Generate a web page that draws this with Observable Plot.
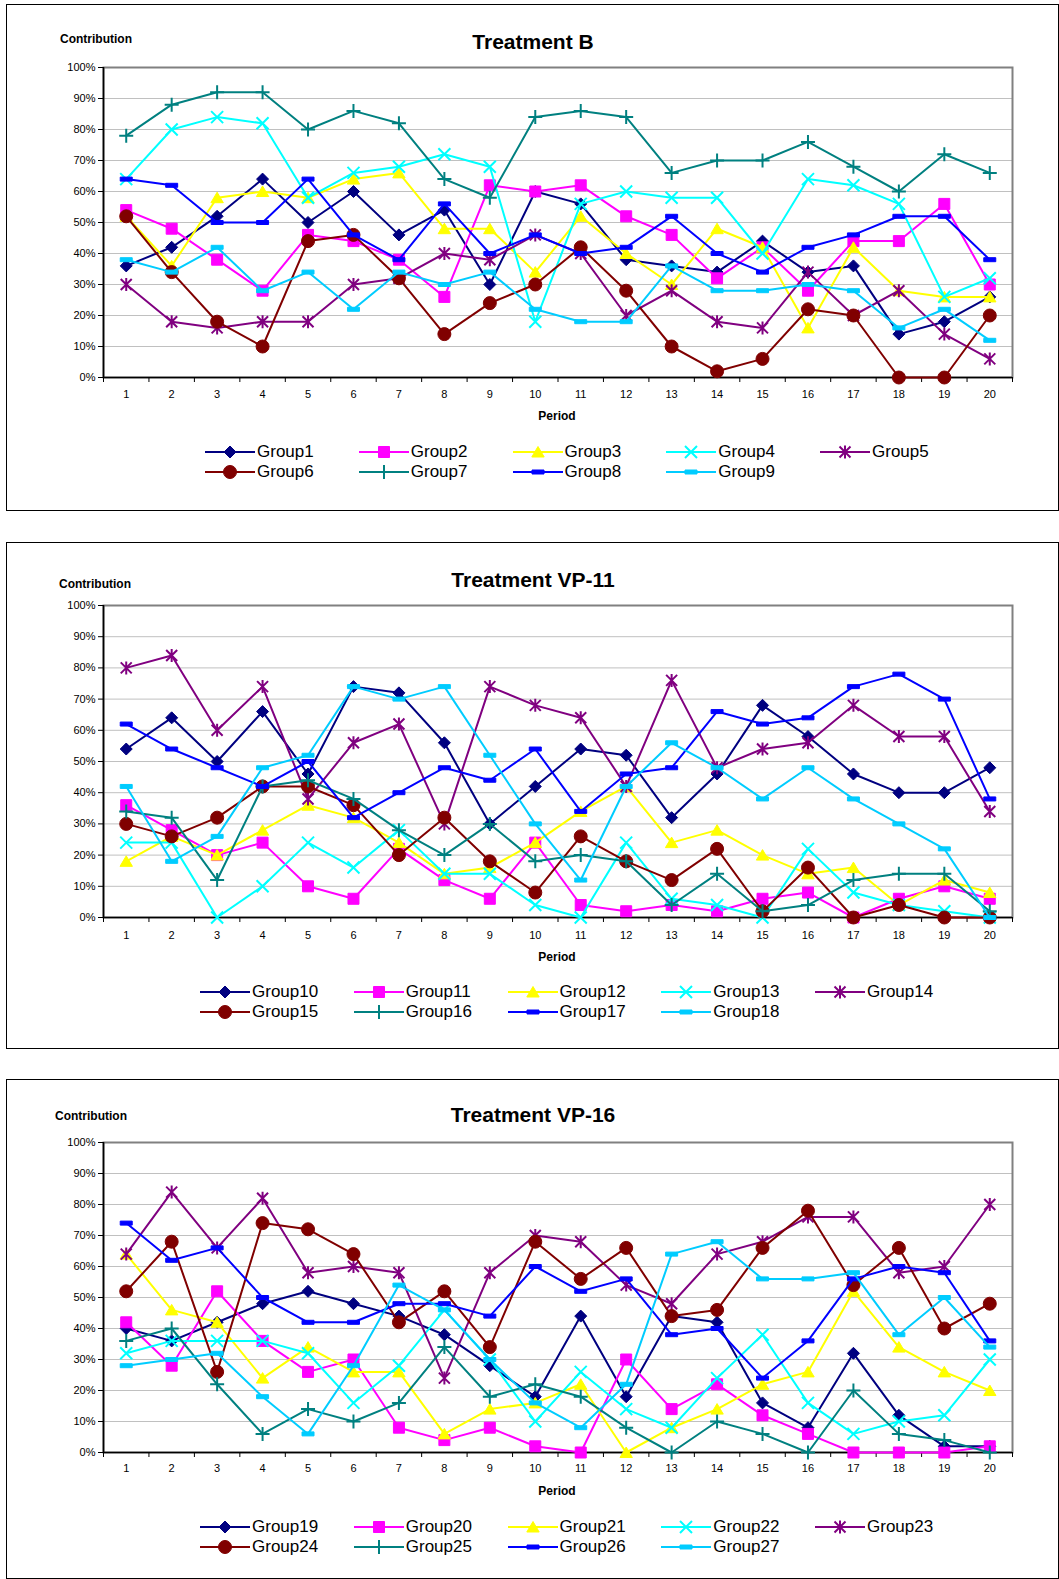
<!DOCTYPE html>
<html><head><meta charset="utf-8">
<script src="https://cdn.jsdelivr.net/npm/d3@7"></script>
<script src="https://cdn.jsdelivr.net/npm/@observablehq/plot@0.6"></script>
<style>
body{margin:0;background:#fff;font-family:"Liberation Sans",Arial,sans-serif;color:#000;}
#root{position:relative;width:1059px;height:1579px;overflow:hidden;}
.panel{position:absolute;left:6px;width:1053px;border:1px solid #000;box-sizing:border-box;background:#fff;overflow:hidden;}
.panel svg.plot{position:absolute;left:0;top:0;}
.contrib{position:absolute;font-weight:bold;font-size:12px;line-height:14px;white-space:nowrap;}
.title{position:absolute;font-weight:bold;font-size:21px;line-height:24px;white-space:nowrap;transform:translateX(-50%);}
.period{position:absolute;font-weight:bold;font-size:12px;line-height:14px;transform:translateX(-50%);}
.li{position:absolute;height:20px;display:flex;align-items:center;white-space:nowrap;font-size:17px;}
</style>
</head><body><div id="root"></div>
<script>
// ---- data (percent contribution per period) ----
const periods = [1,2,3,4,5,6,7,8,9,10,11,12,13,14,15,16,17,18,19,20];
const yTicks = [0,10,20,30,40,50,60,70,80,90,100];

// Treatment B
const g1 = [36,42,52,64,50,60,46,54,30,60,56,38,36,34,44,34,36,14,18,26];
const g2 = [54,48,38,28,46,44,38,26,62,60,62,52,46,32,42,28,44,44,56,30];
const g3 = [52,36,58,60,58,64,66,48,48,34,52,40,30,48,42,16,42,28,26,26];
const g4 = [64,80,84,82,58,66,68,72,68,18,56,60,58,58,40,64,62,56,26,32];
const g5 = [30,18,16,18,18,30,32,40,38,46,40,20,28,18,16,34,20,28,14,6];
const g6 = [52,34,18,10,44,46,32,14,24,30,42,28,10,2,6,22,20,0,0,20];
const g7 = [78,88,92,92,80,86,82,64,58,84,86,84,66,70,70,76,68,60,72,66];
const g8 = [64,62,50,50,64,46,38,56,40,46,40,42,52,40,34,42,46,52,52,38];
const g9 = [38,34,42,28,34,22,34,30,34,22,18,18,36,28,28,30,28,16,22,12];

// Treatment VP-11
const g10 = [54,64,50,66,46,74,72,56,30,42,54,52,32,46,68,58,46,40,40,48];
const g11 = [36,28,20,24,10,6,22,12,6,24,4,2,4,2,6,8,0,6,10,6];
const g12 = [18,26,20,28,36,32,24,14,16,24,34,42,24,28,20,14,16,4,12,8];
const g13 = [24,24,0,10,24,16,28,14,14,4,0,24,6,4,0,22,8,4,2,0];
const g14 = [80,84,60,74,38,56,62,30,74,68,64,42,76,48,54,56,68,58,58,34];
const g15 = [30,26,32,42,42,36,20,32,18,8,26,18,12,22,2,16,0,4,0,0];
const g16 = [34,32,12,42,44,38,28,20,30,18,20,18,4,14,2,4,12,14,14,2];
const g17 = [62,54,48,42,50,32,40,48,44,54,34,46,48,66,62,64,74,78,70,38];
const g18 = [42,18,26,48,52,74,70,74,52,30,12,42,56,48,38,48,38,30,22,0];

// Treatment VP-16
const g19 = [40,36,42,48,52,48,44,38,28,18,44,18,44,42,16,8,32,12,2,2];
const g20 = [42,28,52,36,26,30,8,4,8,2,0,30,14,22,12,6,0,0,0,2];
const g21 = [64,46,42,24,34,26,26,6,14,16,22,0,8,14,22,26,52,34,26,20];
const g22 = [32,36,36,36,32,16,28,46,30,10,26,14,8,24,38,16,6,10,12,30];
const g23 = [64,84,66,82,58,60,58,24,58,70,68,54,48,64,68,76,76,58,60,80];
const g24 = [52,68,26,74,72,64,42,52,34,68,56,66,44,46,66,78,54,66,40,48];
const g25 = [36,40,22,6,14,10,16,34,18,22,18,8,0,10,6,0,20,6,4,0];
const g26 = [74,62,66,50,42,42,48,48,44,60,52,56,38,40,24,36,56,60,58,36];
const g27 = [28,30,32,18,6,28,54,46,30,16,8,22,64,68,56,56,58,38,50,34];

const namesB = ["Group1","Group2","Group3","Group4","Group5","Group6","Group7","Group8","Group9"];
const names11 = ["Group10","Group11","Group12","Group13","Group14","Group15","Group16","Group17","Group18"];
const names16 = ["Group19","Group20","Group21","Group22","Group23","Group24","Group25","Group26","Group27"];

// ---- marker styles (Excel default series sequence) ----
const symDiamond = {draw(c){c.moveTo(0,-6);c.lineTo(6,0);c.lineTo(0,6);c.lineTo(-6,0);c.closePath();}};
const symSquare = {draw(c){c.rect(-5.5,-5.5,11,11);}};
const symTriangle = {draw(c){c.moveTo(0,-5.5);c.lineTo(6.2,5);c.lineTo(-6.2,5);c.closePath();}};
const symTimes = {draw(c){c.moveTo(-6,-6);c.lineTo(6,6);c.moveTo(-6,6);c.lineTo(6,-6);}};
const symAster = {draw(c){c.moveTo(-5.5,-5.5);c.lineTo(5.5,5.5);c.moveTo(-5.5,5.5);c.lineTo(5.5,-5.5);c.moveTo(0,-6.5);c.lineTo(0,6.5);}};
const symPlus = {draw(c){c.moveTo(-7,0);c.lineTo(7,0);c.moveTo(0,-7);c.lineTo(0,7);}};
const symDash = {draw(c){c.rect(-6,-2,12,4);}};
const styles = [
  {color:"#000080", symbol:symDiamond, filled:true},
  {color:"#FF00FF", symbol:symSquare, filled:true},
  {color:"#FFFF00", symbol:symTriangle, filled:true},
  {color:"#00FFFF", symbol:symTimes, filled:false},
  {color:"#800080", symbol:symAster, filled:false},
  {color:"#800000", symbol:"circle", filled:true, r:6.5},
  {color:"#008080", symbol:symPlus, filled:false},
  {color:"#0000FF", symbol:symDash, filled:true},
  {color:"#00CCFF", symbol:symDash, filled:true}
];

const panels = [
  {top:4, height:507, title:"Treatment B", names:namesB, series:[g1,g2,g3,g4,g5,g6,g7,g8,g9],
   legendLeft:205, contribLeft:60, contribY:34, titleY:37, mb:28, tickPad:13, periodY:411, legendY:447},
  {top:542, height:507, title:"Treatment VP-11", names:names11, series:[g10,g11,g12,g13,g14,g15,g16,g17,g18],
   legendLeft:200, contribLeft:59, contribY:41, titleY:37, mb:26, tickPad:14, periodY:414, legendY:449},
  {top:1079, height:500, title:"Treatment VP-16", names:names16, series:[g19,g20,g21,g22,g23,g24,g25,g26,g27],
   legendLeft:200, contribLeft:55, contribY:36, titleY:35, mb:28, tickPad:12, periodY:411, legendY:447}
];

const bounds = periods.map(d => d - 0.5).concat([periods[periods.length-1] + 0.5]);
const root = document.getElementById("root");

function makePlot(p){
  const marks = [
    Plot.ruleY(yTicks.slice(1, -1), {stroke:"#c0c0c0", strokeWidth:1}),
    Plot.frame({stroke:"#808080", strokeWidth:2}),
    Plot.ruleX([bounds[0]], {stroke:"#000", strokeWidth:1.6}),
    Plot.ruleY([0], {stroke:"#000", strokeWidth:1.6}),
    Plot.axisY({ticks:yTicks, tickSize:5, tickPadding:3, tickFormat:d => d + "%", fontSize:11}),
    Plot.axisX({ticks:periods, tickSize:0, tickPadding:p.tickPad, tickFormat:d => String(d), fontSize:11}),
    Plot.axisX({ticks:bounds, tickSize:5, tickFormat:() => ""})
  ];
  p.series.forEach((vals, i) => {
    const st = styles[i];
    const data = periods.map((x, j) => ({period:x, value:vals[j]}));
    marks.push(Plot.line(data, {x:"period", y:"value", stroke:st.color, strokeWidth:2}));
    marks.push(Plot.dot(data, {x:"period", y:"value", symbol:st.symbol, r:st.r || 5,
      fill:st.filled ? st.color : "none", stroke:st.color, strokeWidth:st.filled ? 1 : 2}));
  });
  const svg = Plot.plot({
    width:1051, height:400, marginLeft:96, marginRight:46, marginTop:62, marginBottom:p.mb,
    x:{type:"linear", domain:[bounds[0], bounds[bounds.length-1]], label:null},
    y:{domain:[0,100], label:null},
    style:{fontFamily:"'Liberation Sans', Arial, sans-serif", fontSize:"11px", color:"#000", background:"transparent", overflow:"visible"},
    marks
  });
  svg.classList.add("plot");
  return svg;
}

function symPath(st){
  if (st.symbol === "circle") return d3.symbol(d3.symbolCircle, Math.PI * 6.5 * 6.5)();
  return d3.symbol(st.symbol)();
}

panels.forEach(p => {
  const div = document.createElement("div");
  div.className = "panel";
  div.style.top = p.top + "px";
  div.style.height = p.height + "px";
  root.appendChild(div);
  div.appendChild(makePlot(p));

  const c = document.createElement("div");
  c.className = "contrib"; c.textContent = "Contribution";
  c.style.left = (p.contribLeft - 7) + "px"; c.style.top = (p.contribY - 7) + "px";
  div.appendChild(c);

  const t = document.createElement("div");
  t.className = "title"; t.textContent = p.title;
  t.style.left = "526px"; t.style.top = (p.titleY - 12) + "px";
  div.appendChild(t);

  const per = document.createElement("div");
  per.className = "period"; per.textContent = "Period";
  per.style.left = "550px"; per.style.top = (p.periodY - 7) + "px";
  div.appendChild(per);

  p.names.forEach((name, i) => {
    const st = styles[i];
    const row = i < 5 ? 0 : 1, col = i % 5;
    const item = document.createElement("div");
    item.className = "li";
    item.style.left = (p.legendLeft - 7 + col * 153.75) + "px";
    item.style.top = (p.legendY + row * 20 - 10) + "px";
    const fill = st.filled ? st.color : "none";
    item.innerHTML = `<svg width="52" height="20" style="display:block"><line x1="0" x2="50" y1="10" y2="10" stroke="${st.color}" stroke-width="2"/><path transform="translate(25,10)" d="${symPath(st)}" fill="${fill}" stroke="${st.color}" stroke-width="${st.filled ? 1 : 2}"/></svg><span>${name}</span>`;
    div.appendChild(item);
  });
});
</script>
</body></html>
